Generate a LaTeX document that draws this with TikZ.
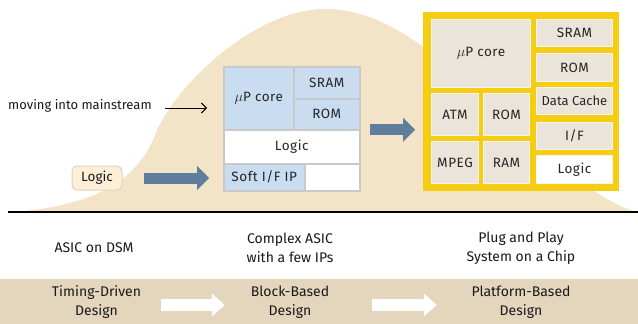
\documentclass[tikz,border=0pt]{standalone}
\usepackage{fontspec}
\setmainfont{Fira Sans}
\newfontfamily\boxfont[LetterSpace=4]{Fira Sans}
\newfontfamily\boxfonttight[LetterSpace=0]{Fira Sans}
\usetikzlibrary{arrows.meta}

\definecolor{hill}{HTML}{F4E4C7}
\definecolor{band}{HTML}{E4D5BD}
\definecolor{arrowblue}{HTML}{5F7E9D}
\definecolor{boxblue}{HTML}{C9DCF0}
\definecolor{boxgray}{HTML}{C9C9C9}
\definecolor{chipyellow}{HTML}{F5CD12}
\definecolor{ipgray}{HTML}{EAE4DA}
\definecolor{ipedge}{HTML}{F8F5F0}
\definecolor{logicfill}{HTML}{FCEFD5}
\definecolor{logicedge}{HTML}{DAD3C3}

\begin{document}
\begin{tikzpicture}[x=1pt,y=-1pt,
  lbl/.style={font=\fontsize{14}{19}\selectfont, align=center, text=black!90, inner sep=0pt},
  mblk/.style={draw=boxgray, line width=1.5pt, anchor=north west, inner sep=0pt,
    font=\boxfont\fontsize{13.5}{15}\selectfont, text=black!85},
  ipblk/.style={fill=ipgray, draw=ipedge, line width=1pt, anchor=north west, inner sep=0pt,
    font=\boxfont\fontsize{13.5}{15}\selectfont, text=black!85},
  fatarrow/.style={line width=11pt, draw=arrowblue,
    -{Triangle[length=12pt,width=24pt,line width=0pt,fill=arrowblue]}},
  whitearrow/.style={line width=12pt, draw=white,
    -{Triangle[length=13pt,width=23pt,line width=0pt,fill=white]}}
]
\useasboundingbox (0,0) rectangle (638,324);

% design-style band along the bottom
\fill[band] (0,279) rectangle (638,324);

% adoption curve
\fill[hill] (15,212) .. controls (90,205) and (135,185) .. (155,135)
  .. controls (175,85) and (255,9) .. (325,9)
  .. controls (390,9) and (440,60) .. (500,110)
  .. controls (560,170) and (600,200) .. (636,212) -- cycle;

% baseline
\draw[line width=2.5pt] (8,212) -- (638,212);

% stage 1: plain logic
\node[fill=logicfill, draw=logicedge, line width=1pt, rounded corners=5pt,
  minimum width=50pt, minimum height=24pt, inner sep=0pt,
  font=\fontsize{13.5}{14}\selectfont, text=black!90] (logic) at (97,178) {Logic};

% stage 2: complex ASIC with a few IPs
\node[mblk, fill=white, minimum width=136pt, minimum height=124pt] (mblock) at (223,66) {};
\node[mblk, fill=boxblue, minimum width=70pt, minimum height=63pt] (mcore) at (223,66) {$\mu$P core};
\node[mblk, fill=boxblue, minimum width=66pt, minimum height=32pt] (msram) at (293,66) {SRAM};
\node[mblk, fill=boxblue, minimum width=66pt, minimum height=31pt] (mrom) at (293,98) {ROM};
\node[mblk, fill=white, minimum width=136pt, minimum height=34pt] (mlogic) at (223,129) {Logic};
\node[mblk, fill=boxblue, minimum width=81pt, minimum height=27pt] (msoft) at (223,163) {Soft I/F IP};

% stage 3: system on a chip
\node[fill=chipyellow, anchor=north west, minimum width=196pt, minimum height=179pt, inner sep=0pt] (chip) at (423,12) {};
\node[ipblk, minimum width=99pt, minimum height=68pt] (rcore) at (431,19) {$\mu$P core};
\node[ipblk, minimum width=76pt, minimum height=27pt] (rsram) at (536,19) {SRAM};
\node[ipblk, minimum width=76pt, minimum height=28pt] (rrom) at (536,53) {ROM};
\node[ipblk, minimum width=76pt, minimum height=27pt] (rcache) at (536,87) {\boxfonttight\fontsize{13}{15}\selectfont Data Cache};
\node[ipblk, minimum width=76pt, minimum height=27pt] (rif) at (536,122) {I/F};
\node[ipblk, fill=white, minimum width=76pt, minimum height=28pt] (rlogic) at (536,155) {Logic};
\node[ipblk, minimum width=47pt, minimum height=42pt] (ratm) at (431,93) {ATM};
\node[ipblk, minimum width=46pt, minimum height=42pt] (rrom2) at (483,93) {ROM};
\node[ipblk, minimum width=47pt, minimum height=42pt] (rmpeg) at (431,141) {MPEG};
\node[ipblk, minimum width=46pt, minimum height=42pt] (rram) at (483,141) {RAM};

% transitions between stages
\draw[fatarrow] ([xshift=21pt]logic.east) -- ([xshift=-14pt]logic.east -| msoft.west);
\draw[fatarrow] ([xshift=9pt,yshift=-1pt]mblock.east) -- ([xshift=-8pt,yshift=-1pt]mblock.east -| chip.west);

% annotation
\node[anchor=west, inner sep=0pt, font=\fontsize{13}{14}\selectfont, text=black!90]
  (mtext) at (8,106) {moving into mainstream};
\draw[line width=0.9pt, -{Straight Barb[length=5pt,width=10pt]}]
  ([xshift=13pt,yshift=-2pt]mtext.east) -- ([xshift=-16pt,yshift=-2pt]mtext.east -| mblock.west);

% stage captions
\node[lbl] (asic) at (94,248) {ASIC on DSM};
\node[lbl] (cplx) at (290,248) {Complex ASIC\\with a few IPs};
\node[lbl] (plug) at (521,248) {Plug and Play\\System on a Chip};

% design styles
\node[lbl, text width=100pt] (tdd) at (96.5,302) {Timing-Driven\\Design};
\node[lbl, text width=100pt] (bbd) at (290,302) {Block-Based\\Design};
\node[lbl, text width=100pt] (pbd) at (521,302) {Platform-Based\\Design};
\draw[whitearrow] ([xshift=14.5pt,yshift=-3pt]tdd.east) -- ([xshift=-15pt,yshift=-3pt]bbd.west);
\draw[whitearrow] ([xshift=32pt,yshift=-3pt]bbd.east) -- ([xshift=-34pt,yshift=-3pt]pbd.west);
\end{tikzpicture}
\end{document}
